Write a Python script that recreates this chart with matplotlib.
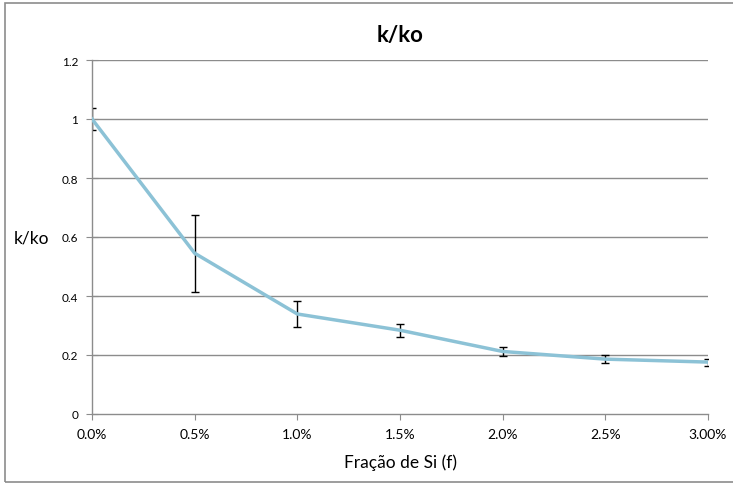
import matplotlib
matplotlib.use("Agg")
import matplotlib.pyplot as plt
from matplotlib.patches import Rectangle

plt.rcParams['font.family'] = ['Lato', 'DejaVu Sans']

# data
fracao = [0.0, 0.5, 1.0, 1.5, 2.0, 2.5, 3.0]
k_ko = [1.0, 0.545, 0.339, 0.284, 0.212, 0.186, 0.176]
erro = [0.036, 0.13, 0.044, 0.022, 0.015, 0.013, 0.012]
xlabels = ['0.0%', '0.5%', '1.0%', '1.5%', '2.0%', '2.5%', '3.00%']
yticks = [0, 0.2, 0.4, 0.6, 0.8, 1, 1.2]
ylabels = ['0', '0.2', '0.4', '0.6', '0.8', '1', '1.2']

fig = plt.figure(figsize=(7.33, 4.85), dpi=100)
# outer chart frame (right edge falls outside the image)
fig.patches.append(Rectangle((5 / 733, 2 / 485), 760 / 733, 479 / 485, transform=fig.transFigure,
                             fill=False, edgecolor='#8c8c8c', linewidth=1.2))

ax = fig.add_axes([92 / 733, 70 / 485, 616 / 733, 354 / 485])

for y in yticks[1:]:
    ax.axhline(y, color='#8c8c8c', linewidth=1.0, zorder=0)

ax.errorbar(fracao, k_ko, yerr=erro, fmt='none', ecolor='black', elinewidth=1.0,
            capsize=3, capthick=1.0, zorder=2)
ax.plot(fracao, k_ko, color='#8cc2d6', linewidth=2.5, zorder=3)

ax.set_xlim(0, 3.0)
ax.set_ylim(0, 1.2)
ax.set_xticks(fracao)
ax.set_xticklabels(xlabels, fontsize=10)
ax.set_yticks(yticks)
ax.set_yticklabels(ylabels, fontsize=8.5)

for s in ['top', 'right']:
    ax.spines[s].set_visible(False)
for s in ['left', 'bottom']:
    ax.spines[s].set_color('#8c8c8c')
    ax.spines[s].set_linewidth(1.0)
ax.tick_params(axis='x', color='#8c8c8c', length=4, direction='out', pad=6)
ax.tick_params(axis='y', color='#8c8c8c', direction='inout', length=8, pad=6)

ax.set_title('k/ko', fontsize=16, fontweight='bold', pad=14)
ax.set_xlabel('Fração de Si (f)', fontsize=12.5, labelpad=10)
ax.set_ylabel('k/ko', fontsize=12.5, rotation=0, labelpad=22, va='center')

plt.savefig('out.png', dpi=100)
